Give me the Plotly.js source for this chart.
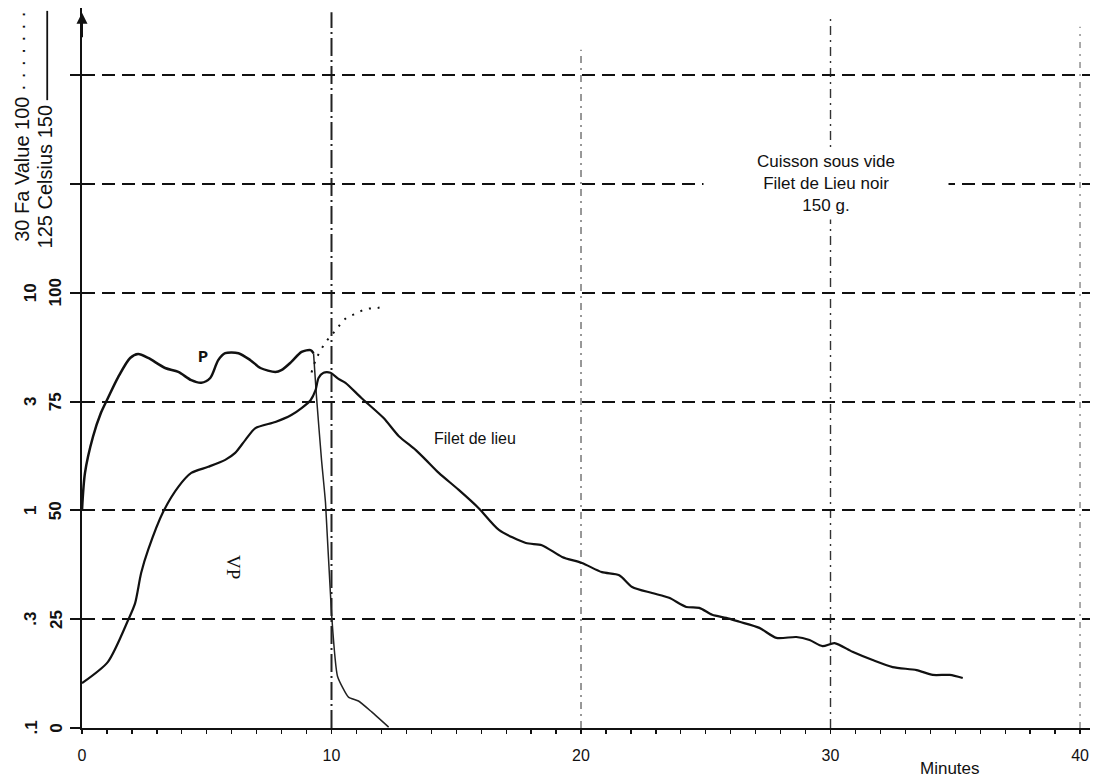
<!DOCTYPE html>
<html>
<head>
<meta charset="utf-8">
<script src="https://cdn.plot.ly/plotly-3.0.1.min.js"></script>
<style>html,body{margin:0;padding:0;background:#fff}#chart{width:1101px;height:778px}</style>
</head>
<body>
<div id="chart"></div>
<script>
// ---- data ----
const minutesP = [0,0.12,0.44,0.76,1.04,1.45,1.93,2.25,2.65,3.33,3.86,4.38,4.78,5.14,5.46,5.74,6.27,6.75,7.15,7.75,7.99,8.39,8.80,9.16,9.28];
const celsiusP = [50,58.6,66.9,72.4,75.8,80.6,85.0,85.9,85.0,82.7,81.8,79.9,79.3,80.4,84.5,86.1,86.1,84.5,82.7,81.8,82.2,84.1,86.4,86.8,86.1];
const minutesPCool = [9.28,9.40,9.60,9.76,10.0,10.24,10.68,11.08,11.61,12.29];
const celsiusPCool = [86.1,76.0,61.6,51.7,26.4,11.9,7.1,6.2,3.7,0.2];
const minutesFilet = [0,1.04,1.85,2.13,2.37,2.65,3.25,3.86,4.38,5.06,5.74,6.14,6.55,6.95,7.75,8.39,8.80,9.16,9.36,9.48,9.68,9.96,10.28,10.56,11.20,12.09,12.69,13.37,13.78,14.30,15.10,15.90,16.71,17.79,18.43,19.24,20.04,20.84,21.53,22.05,22.85,23.53,24.22,24.74,25.26,25.82,26.35,27.15,27.83,28.63,29.16,29.68,30.16,30.88,31.69,32.49,33.45,34.10,34.78,35.30];
const celsiusFilet = [10.3,15.2,24.8,28.7,35.6,40.9,49.6,55.4,58.6,60.0,61.6,63.2,66.2,68.9,70.3,71.9,73.5,75.3,77.6,80.4,81.6,81.6,80.2,79.3,75.8,71.2,67.1,63.9,61.6,58.6,54.7,50.5,45.5,42.5,42.0,39.3,37.9,35.8,35.1,32.4,31.0,29.9,27.8,27.6,26.0,25.3,24.4,23.0,20.7,20.9,20.2,18.8,19.5,17.5,15.6,14.0,13.3,12.2,12.2,11.5];
const minutesFa = [9.20,9.40,9.76,10.16,10.56,10.96,11.37,11.81,12.05];
const faValue = [4.3,5.0,5.9,6.7,7.6,8.0,8.4,8.5,8.6];

const xTickVals = [0,10,20,30,40];
const xTickText = ['0','10','20','30','40'];
const celsiusGrid = [0,25,50,75,100,125,150];
const celsiusTickText = ['0','25','50','75','100'];
const faTickText = ['.1','.3','1','3','10'];
const gridMinutes = [10,20,30,40];

const titleLines = ['Cuisson sous vide','Filet de Lieu noir','150 g.'];
const labelP = 'P';
const labelFilet = 'Filet de lieu';
const labelVP = 'VP';
const labelMinutes = 'Minutes';
const labelFa = '30 Fa Value 100 · · · · · · ·';
const labelCelsius = '125 Celsius 150';

// ---- styling ----
const INK = '#111';
const sans = 'Liberation Sans, Arial, sans-serif';
const gridStyle = {
  10: {top: 0.994, dash: '18px,4px,2px,4px', width: 2, color: '#222'},
  20: {top: 0.942, dash: '7px,5px,2px,5px', width: 1.2, color: '#555'},
  30: {top: 0.986, dash: '9px,5px,2px,5px', width: 1.4, color: '#333'},
  40: {top: 0.974, dash: '6px,6px,2px,6px', width: 1.1, color: '#666'}
};

const traces = [
  {x: minutesP, y: celsiusP, mode: 'lines', line: {color: INK, width: 2.5, shape: 'spline', smoothing: 0.8}, name: 'P', hoverinfo: 'skip'},
  {x: minutesPCool, y: celsiusPCool, mode: 'lines', line: {color: '#222', width: 1.5, shape: 'spline', smoothing: 0.5}, name: 'P refroidissement', hoverinfo: 'skip'},
  {x: minutesFilet, y: celsiusFilet, mode: 'lines', line: {color: INK, width: 2.2, shape: 'spline', smoothing: 0.7}, name: 'Filet de lieu', hoverinfo: 'skip'},
  {x: minutesFa, y: faValue, yaxis: 'y2', mode: 'lines', line: {color: INK, width: 2, dash: '2px,7px', shape: 'spline'}, name: 'Fa', hoverinfo: 'skip'}
];

const shapes = gridMinutes.map(m => ({
  type: 'line', xref: 'x', yref: 'paper', x0: m, x1: m, y0: 0, y1: gridStyle[m].top,
  line: {color: gridStyle[m].color, width: gridStyle[m].width, dash: gridStyle[m].dash}, layer: 'below'
}));
// legend stroke next to the Celsius label (solid line = Celsius)
shapes.push({type: 'line', xref: 'paper', yref: 'paper', x0: -0.0345, x1: -0.0345, y0: 0.872, y1: 0.996,
  line: {color: INK, width: 1.8}});

const annotations = [];
celsiusTickText.forEach((t, i) => {
  annotations.push({xref: 'paper', yref: 'y', x: -0.026, y: celsiusGrid[i], text: t, showarrow: false, textangle: -90,
    xanchor: 'center', yanchor: 'middle', font: {family: sans, size: 17, color: INK, weight: 'bold'}});
  annotations.push({xref: 'paper', yref: 'y', x: -0.051, y: celsiusGrid[i], text: faTickText[i], showarrow: false, textangle: -90,
    xanchor: 'center', yanchor: 'middle', font: {family: sans, size: 17, color: INK, weight: 'bold'}});
});
annotations.push({xref: 'paper', yref: 'paper', x: -0.0595, y: 0.835, text: labelFa, showarrow: false, textangle: -90,
  xanchor: 'center', yanchor: 'middle', font: {family: sans, size: 20, color: INK}});
annotations.push({xref: 'paper', yref: 'paper', x: -0.0365, y: 0.765, text: labelCelsius, showarrow: false, textangle: -90,
  xanchor: 'center', yanchor: 'middle', font: {family: sans, size: 20, color: INK}});
annotations.push({xref: 'x', yref: 'y', x: 0, y: 164.3, ax: 0, ay: 26, text: '', showarrow: true, arrowhead: 2, arrowsize: 1.1, arrowwidth: 2, arrowcolor: INK});
annotations.push({xref: 'x', yref: 'y', x: 29.8, y: 125, text: titleLines.join('<br>'), showarrow: false,
  bgcolor: '#fff', width: 236, borderpad: 4, font: {family: sans, size: 17, color: INK}, align: 'center'});
annotations.push({xref: 'x', yref: 'y', x: 4.85, y: 85.2, text: labelP, showarrow: false,
  font: {family: 'Liberation Mono, monospace', size: 17, color: INK, weight: 'bold'}});
annotations.push({xref: 'x', yref: 'y', x: 15.75, y: 66.4, text: labelFilet, showarrow: false,
  font: {family: sans, size: 16, color: INK}});
annotations.push({xref: 'x', yref: 'y', x: 6.05, y: 37, text: labelVP, showarrow: false, textangle: 90,
  font: {family: 'Liberation Serif, serif', size: 19, color: INK}});
annotations.push({xref: 'paper', yref: 'paper', x: 0.861, y: -0.056, text: labelMinutes, showarrow: false,
  xanchor: 'center', yanchor: 'middle', font: {family: sans, size: 17, color: INK}});

const layout = {
  width: 1101, height: 778,
  margin: {l: 82, r: 11, t: 8, b: 50},
  paper_bgcolor: '#fff', plot_bgcolor: '#fff',
  showlegend: false,
  xaxis: {
    range: [0, 40.4], tickmode: 'array', tickvals: xTickVals, ticktext: xTickText,
    showgrid: false, zeroline: false, showline: true, linecolor: INK, linewidth: 2,
    ticks: 'outside', ticklen: 4, tickwidth: 1.5, tickcolor: INK,
    minor: {dtick: 1, tick0: 0, ticks: 'outside', ticklen: 4, tickwidth: 1.3, tickcolor: INK, showgrid: false},
    tickfont: {family: sans, size: 16, color: INK}, ticklabelstandoff: 8, fixedrange: true
  },
  yaxis: {
    range: [0, 165.4], tickmode: 'array', tickvals: celsiusGrid, showticklabels: false,
    showgrid: true, gridcolor: INK, gridwidth: 2, griddash: '13px,7px',
    zeroline: false, showline: true, linecolor: INK, linewidth: 2,
    ticks: 'outside', ticklen: 10, tickwidth: 2, tickcolor: INK, fixedrange: true
  },
  yaxis2: {type: 'log', range: [-1, 2.308], overlaying: 'y', anchor: 'x', visible: false, fixedrange: true},
  shapes: shapes,
  annotations: annotations
};

Plotly.newPlot('chart', traces, layout, {displayModeBar: false, staticPlot: true});
</script>
</body>
</html>
